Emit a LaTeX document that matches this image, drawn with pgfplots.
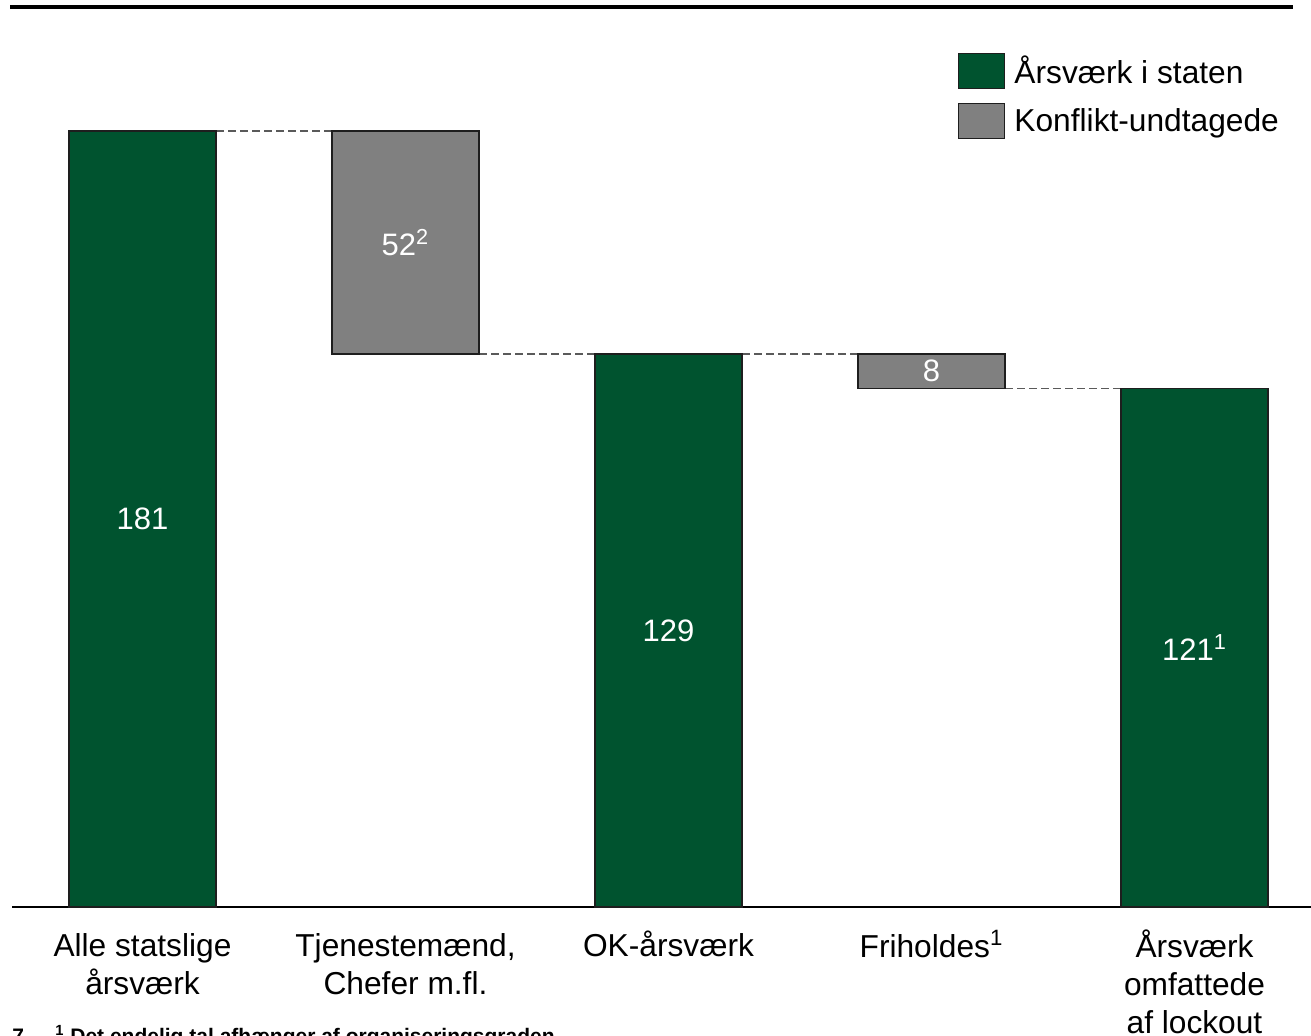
\documentclass[border=0pt]{standalone}
\usepackage{pgfplots}
\pgfplotsset{compat=1.18}
\usepackage{fontspec}
\setmainfont{Liberation Sans}
\definecolor{stategreen}{RGB}{0,83,47}
\definecolor{exgray}{RGB}{128,128,128}
\definecolor{edge}{RGB}{30,30,30}
\definecolor{connector}{RGB}{90,90,90}
\newcommand{\lbl}{\fontsize{15.85}{19}\selectfont}

\begin{document}
\begin{tikzpicture}
\useasboundingbox (0,0) rectangle (655.5pt,517.5pt);
\draw[line width=2pt] (5pt,514pt) -- (646.5pt,514pt);
\begin{axis}[
  at={(6pt,64pt)}, anchor=south west,
  scale only axis, width=649.5pt, height=388pt,
  xmin=-0.4962, xmax=4.443, ymin=0, ymax=181,
  ybar stacked, bar width=0.559,
  axis x line=bottom, hide y axis,
  x axis line style={-, line width=0.7pt},
  xtick={0,1,2,3,4},
  xticklabels={{\strut Alle statslige\\årsværk},{\strut Tjenestemænd,\\Chefer m.fl.},{\strut OK-årsværk},{\strut Friholdes\textsuperscript{1}},{\strut Årsværk\\omfattede\\af lockout}},
  xtick style={draw=none}, major tick length=0pt,
  xticklabel style={font=\lbl, align=center, anchor=north, inner sep=0pt, yshift=-11.2pt},
  legend style={draw=none, fill=none, at={(0.7283,1.1005)}, anchor=north west,
    inner sep=0pt, outer sep=0pt, row sep=6.75pt, column sep=4.5pt, font=\lbl,
    cells={anchor=west}, nodes={inner sep=0pt}},
  legend image code/.code={\draw[#1] (0pt,-8.75pt) rectangle (23pt,8.75pt);},
  clip=false,
]
\addplot[fill=stategreen, draw=edge, line width=0.7pt] coordinates {(0,181)(1,0)(2,129)(3,0)(4,121)};
\addlegendentry{Årsværk i staten}
\addplot[fill=none, draw=none, forget plot] coordinates {(0,0)(1,129)(2,0)(3,121)(4,0)};
\addplot[fill=exgray, draw=edge, line width=0.7pt] coordinates {(0,0)(1,52)(2,0)(3,8)(4,0)};
\addlegendentry{Konflikt-undtagede}

\draw[connector, dash pattern=on 4pt off 2pt, line width=0.6pt] (axis cs:0.2795,181) -- (axis cs:0.7205,181);
\draw[connector, dash pattern=on 4pt off 2pt, line width=0.6pt] (axis cs:1.2795,129) -- (axis cs:1.7205,129);
\draw[connector, dash pattern=on 4pt off 2pt, line width=0.6pt] (axis cs:2.2795,129) -- (axis cs:2.7205,129);
\draw[connector, dash pattern=on 4pt off 2pt, line width=0.6pt] (axis cs:3.2795,121) -- (axis cs:3.7205,121);

\coordinate (v0) at (axis cs:0,90.5);
\coordinate (v1) at (axis cs:1,155);
\coordinate (v2) at (axis cs:2,64.5);
\coordinate (v3) at (axis cs:3,125);
\coordinate (v4) at (axis cs:4,60.5);
\end{axis}
\begin{scope}[every node/.style={white, font=\fontsize{15.5}{18}\selectfont}]
\node at (v0) {181};
\node at (v1) {52\textsuperscript{2}};
\node at (v2) {129};
\node at (v3) {8};
\node at (v4) {121\textsuperscript{1}};
\end{scope}
\node[anchor=base west, inner sep=0pt, font=\bfseries\fontsize{10.5}{13}\selectfont] at (6pt,-4pt) {7};
\node[anchor=base west, inner sep=0pt, font=\bfseries\fontsize{10.5}{13}\selectfont] at (27.5pt,-4pt) {\textsuperscript{1} Det endelig tal afhænger af organiseringsgraden};
\end{tikzpicture}
\end{document}
